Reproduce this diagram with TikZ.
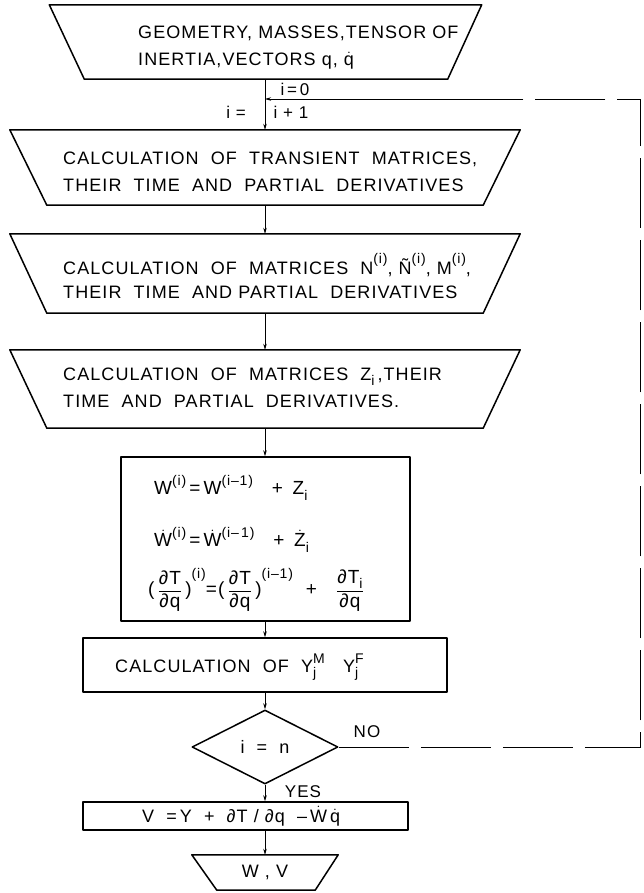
\documentclass[tikz,border=0pt]{standalone}
\usepackage{amsmath}
\usepackage{fontspec}
\setmainfont{Liberation Sans}[LetterSpace=6]
\usetikzlibrary{shapes.geometric,arrows.meta}
\newcommand\dt[1]{\ensuremath{\dot{\text{#1}}}}
\newcommand\sps[2][0.5em]{\raisebox{#1}{\fontsize{14}{14}\selectfont #2}}
\newcommand\sbs[1]{\raisebox{-0.3em}{\fontsize{14}{14}\selectfont #1}}
\begin{document}
\begin{tikzpicture}[x=1pt,y=-1pt,
  frame/.style={draw=none,inner sep=0pt,minimum width=#1},
  outline/.style={line width=1.5pt,line join=round},
  flow/.style={line width=0.7pt,-{Stealth[length=6pt,width=3.5pt]}},
  loopline/.style={line width=0.7pt,dash pattern=on 70pt off 12pt},
  lbl/.style={font=\fontsize{18}{22}\selectfont,inner sep=0pt,anchor=west},
  wlbl/.style={font=\fontsize{19}{22}\selectfont,inner sep=0pt,anchor=west},
  small/.style={font=\fontsize{17}{20}\selectfont,inner sep=0pt}]
\useasboundingbox (0,0) rectangle (643,893);

% input trapezoid
\node[frame=432pt,minimum height=74pt] (inp) at (265.5,42) {};
\draw[outline] (inp.north west) -- (inp.north east) -- ([xshift=-34pt]inp.south east) -- ([xshift=35pt]inp.south west) -- cycle;
\node[lbl] (t1) at (138,33) {GEOMETRY, MASSES,TENSOR\ OF};
\node[lbl] (t2) at (138,61) {INERTIA,VECTORS q, \dt{q}};

% box 1
\node[frame=510pt,minimum height=75pt] (b1) at (265,167.5) {};
\draw[outline] (b1.north west) -- (b1.north east) -- ([xshift=-37pt]b1.south east) -- ([xshift=37pt]b1.south west) -- cycle;
\node[lbl] (b1a) at (63,159) {CALCULATION\ \ OF\ \ TRANSIENT\ \ MATRICES,};
\node[lbl] (b1b) at (63,185) {THEIR\ \ TIME\ \ AND\ \ PARTIAL\ \ DERIVATIVES};

% box 2
\node[frame=510pt,minimum height=79pt] (b2) at (265,273.5) {};
\draw[outline] (b2.north west) -- (b2.north east) -- ([xshift=-37pt]b2.south east) -- ([xshift=37pt]b2.south west) -- cycle;
\node[lbl] (b2a) at (63,265) {CALCULATION\ \ OF\ \ MATRICES\ \ N\sps[0.6em]{(i)}, Ñ\sps[0.6em]{(i)}, M\sps[0.6em]{(i)},};
\node[lbl] (b2b) at (63,292) {THEIR\ \ TIME\ \ AND\ PARTIAL\ \ DERIVATIVES};

% box 3
\node[frame=510pt,minimum height=78pt] (b3) at (265,389) {};
\draw[outline] (b3.north west) -- (b3.north east) -- ([xshift=-37pt]b3.south east) -- ([xshift=37pt]b3.south west) -- cycle;
\node[lbl] (b3a) at (63,377) {CALCULATION\ \ OF\ \ MATRICES\ \ Z\sbs{i}\,,THEIR};
\node[lbl] (b3b) at (63,401) {TIME\ \ AND\ \ PARTIAL\ \ DERIVATIVES.};

% W box
\node[draw,outline,inner sep=0pt,minimum width=289pt,minimum height=164pt] (wb) at (265.5,539) {};
\node[wlbl] (w1) at (154,488) {W\sps{(i)}\,=\,W\sps{(i–1)}\quad+\ \,Z\sbs{i}};
\node[wlbl] (w2) at (154,540) {\dt{W}\sps{(i)}\,=\,\dt{W}\sps{(i–\,1)}\quad+\ \,\dt{Z}\sbs{i}};
\node[wlbl] (w3) at (148,590) {(\,$\dfrac{\text{∂T}}{\text{∂q}}$\,)\sps[0.9em]{(i)}=(\,$\dfrac{\text{∂T}}{\text{∂q}}$\,)\sps[0.9em]{(i–1)}\ \ +\ \ \ $\dfrac{\text{∂T\sbs{i}}}{\text{∂q}}$};

% Y box
\node[draw,outline,inner sep=0pt,minimum width=364pt,minimum height=54pt] (yb) at (265,665) {};
\node[lbl] (y1) at (115,667) {CALCULATION\ \ OF\ \ Y\rlap{\sbs{j}}\sps{M}\ \ \ Y\rlap{\sbs{j}}\sps{F}};

% decision
\node[draw,outline,diamond,inner sep=0pt,minimum width=146pt,minimum height=74pt,font=\fontsize{18}{22}\selectfont] (dia) at (265,747) {i\ \ =\ \ n};
\node[small] (no) at (367,732) {NO};
\node[small] (yes) at (303,792) {YES};

% V box
\node[draw,outline,inner sep=0pt,minimum width=325pt,minimum height=28pt] (vb) at (245.5,816) {};
\node[lbl] (v1) at (142,816) {V\ \ =\,Y\ \ +\ \ ∂T\ /\ ∂q\ \ –\,\dt{W}\,\dt{q}};

% output trapezoid
\node[frame=146pt,minimum height=35pt] (out) at (265,872.5) {};
\draw[outline] (out.north west) -- (out.north east) -- ([xshift=-23pt]out.south east) -- ([xshift=25pt]out.south west) -- cycle;
\node[font=\fontsize{18}{22}\selectfont,inner sep=0pt] (o1) at (265,872) {W\ ,\ V};

% counter labels
\coordinate (jn) at (265,99);
\node[small] (i0) at (295,89) {i\,=\,0};
\node[small] (ieq) at (236,112) {i\ =};
\node[small] (ip1) at (291,112) {i\ +\ 1};

% flow connectors
\draw[flow] (inp.south -| jn) -- (b1.north);
\draw[flow] (b1.south) -- (b2.north);
\draw[flow] (b2.south) -- (b3.north);
\draw[flow] (b3.south) -- (b3.south |- wb.north);
\draw[flow] (b3.south |- wb.south) -- (yb.north);
\draw[flow] (yb.south) -- (dia.north);
\draw[flow] (dia.south) -- (dia.south |- vb.north);
\draw[flow] (dia.south |- vb.south) -- (out.north);

% loop back
\coordinate (c1) at (640,747);
\coordinate (c2) at (640,99);
\coordinate (c3) at (490,99);
\draw[loopline] (dia.east) -- (c1) -- (c2) -- (c3);
\draw[flow] (c3) -- (jn);
\end{tikzpicture}
\end{document}
